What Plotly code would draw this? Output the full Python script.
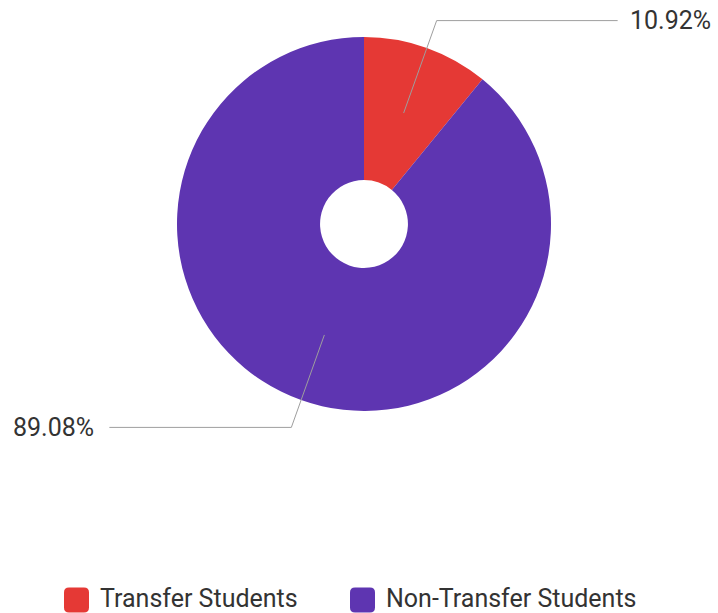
import math
import plotly.graph_objects as go

# ---- data ----
categories = ["Transfer Students", "Non-Transfer Students"]
values = [10.92, 89.08]
colors = ["#E53935", "#5E35B1"]

# ---- geometry (pixels) ----
W, H = 718, 613
CX, CY, R = 364, 224, 187
HOLE = 0.235
FONT = "Roboto, Arial, sans-serif"
TXT = "#333333"
LINE = "#9E9E9E"

fig = go.Figure(go.Pie(
    labels=categories, values=values, sort=False, direction="clockwise",
    rotation=0, hole=HOLE, textinfo="none", hoverinfo="label+percent",
    marker=dict(colors=colors, line=dict(width=0)),
    domain=dict(x=[(CX - R) / W, (CX + R) / W], y=[1 - (CY + R) / H, 1 - (CY - R) / H]),
    showlegend=False,
))

def px(x, y):
    return x / W, 1 - y / H

shapes, annos = [], []
total = sum(values)
cum = 0.0
for v in values:
    mid = (cum + v / 2) / total * 2 * math.pi
    cum += v
    sx, sy = CX + 0.63 * R * math.sin(mid), CY - 0.63 * R * math.cos(mid)
    ex, ey = CX + 1.155 * R * math.sin(mid), CY - 1.155 * R * math.cos(mid)
    right = math.sin(mid) >= 0
    hx = ex + (181 if right else -182)
    for (a, b), (c, d) in [((sx, sy), (ex, ey)), ((ex, ey), (hx, ey))]:
        x0, y0 = px(a, b); x1, y1 = px(c, d)
        shapes.append(dict(type="line", xref="paper", yref="paper", x0=x0, y0=y0, x1=x1, y1=y1,
                           line=dict(color=LINE, width=1)))
    lx, ly = px(hx + (11 if right else -14), ey)
    annos.append(dict(xref="paper", yref="paper", x=lx, y=ly, showarrow=False,
                      xanchor="left" if right else "right", yanchor="middle", borderpad=0,
                      text=f"{v / total * 100:.2f}%", font=dict(family=FONT, size=25, color=TXT)))

# ---- custom legend ----
leg_x = [64, 350]
leg_y = 600
S, rr = 25, 5
for name, col, lx0 in zip(categories, colors, leg_x):
    x0, x1 = lx0, lx0 + S
    y0, y1 = leg_y - S / 2, leg_y + S / 2
    def P(x, y):
        a, b = px(x, y)
        return f"{a:.5f},{b:.5f}"
    path = (f"M {P(x0 + rr, y0)} L {P(x1 - rr, y0)} Q {P(x1, y0)} {P(x1, y0 + rr)} "
            f"L {P(x1, y1 - rr)} Q {P(x1, y1)} {P(x1 - rr, y1)} L {P(x0 + rr, y1)} "
            f"Q {P(x0, y1)} {P(x0, y1 - rr)} L {P(x0, y0 + rr)} Q {P(x0, y0)} {P(x0 + rr, y0)} Z")
    shapes.append(dict(type="path", xref="paper", yref="paper", path=path,
                       fillcolor=col, line=dict(width=0)))
    ax, ay = px(x1 + 10, leg_y - 2)
    annos.append(dict(xref="paper", yref="paper", x=ax, y=ay, showarrow=False,
                      xanchor="left", yanchor="middle", borderpad=0, text=name,
                      font=dict(family=FONT, size=25, color=TXT)))

fig.update_layout(
    width=W, height=H, margin=dict(l=0, r=0, t=0, b=0),
    paper_bgcolor="white", plot_bgcolor="white",
    shapes=shapes, annotations=annos,
)
fig.write_html("out.html", config={"displayModeBar": False},
               post_script="document.body.style.margin='0';document.body.style.overflow='hidden';")
